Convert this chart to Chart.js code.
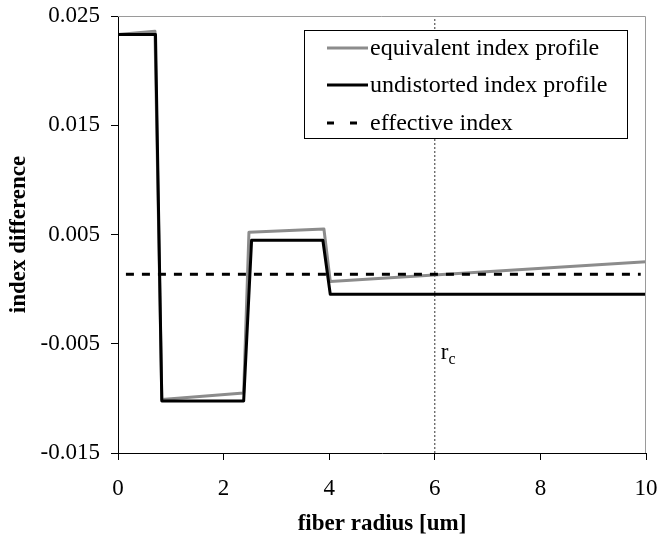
<!DOCTYPE html>
<html>
<head>
<meta charset="utf-8">
<script src="https://cdn.jsdelivr.net/npm/chart.js@4.4.1/dist/chart.umd.min.js"></script>
<style>
  html, body { margin: 0; padding: 0; background: #fff; }
  #profileChart { display: block; }
</style>
</head>
<body>
<canvas id="profileChart" width="657" height="541"></canvas>
<script>
// radius [um] and index difference for each profile
const equivRadius = [0, 0.7, 0.83, 2.38, 2.48, 3.9, 4.02, 10];
const equivIndex = [0.0233, 0.0236, -0.0101, -0.0095, 0.0052, 0.0055, 0.0007, 0.0025];

const undistRadius = [0, 0.71, 0.83, 2.38, 2.53, 3.88, 4.02, 10];
const undistIndex = [0.0233, 0.0233, -0.01024, -0.01024, 0.00447, 0.00447, -0.00047, -0.00047];

const effRadius = [0.15, 9.9];
const effIndex = [0.00136, 0.00136];

// cutoff radius marker
const rcRadius = [6, 6];
const rcIndex = [-0.015, 0.025];

const xTicks = [0, 2, 4, 6, 8, 10];
const yTicks = [-0.015, -0.005, 0.005, 0.015, 0.025];

const serif = "'Liberation Serif', 'Times New Roman', serif";

function toPoints(xs, ys) {
    return xs.map((x, i) => ({ x: x, y: ys[i] }));
}

// boxed legend + top/right frame + r_c label
const decorations = {
    id: 'decorations',
    afterDraw(chart) {
        const ctx = chart.ctx;
        const a = chart.chartArea;
        const xs = chart.scales.x;
        const ys = chart.scales.y;

        ctx.save();
        ctx.strokeStyle = '#9a9a9a';
        ctx.lineWidth = 1;
        ctx.beginPath();
        ctx.moveTo(a.left, a.top + 0.5);
        ctx.lineTo(a.right - 0.5, a.top + 0.5);
        ctx.lineTo(a.right - 0.5, a.bottom);
        ctx.stroke();

        // r_c label next to the marker
        const rx = xs.getPixelForValue(rcRadius[0]) + 6;
        const ry = ys.getPixelForValue(-0.0064);
        ctx.fillStyle = '#000';
        ctx.textBaseline = 'alphabetic';
        ctx.font = '23px ' + serif;
        ctx.fillText('r', rx, ry);
        const rw = ctx.measureText('r').width;
        ctx.font = '16px ' + serif;
        ctx.fillText('c', rx + rw, ry + 5);

        // legend box
        const lw = 323, lh = 108;
        const lx = a.right - 19 - lw;
        const ly = a.top + 14;
        ctx.fillStyle = '#fff';
        ctx.fillRect(lx, ly, lw, lh);
        ctx.strokeStyle = '#000';
        ctx.lineWidth = 1;
        ctx.strokeRect(lx + 0.5, ly + 0.5, lw, lh);

        const rows = [18, 55, 93];
        chart.data.datasets.filter(d => !d.hideInLegend).forEach((d, i) => {
            const y = ly + rows[i];
            ctx.strokeStyle = d.borderColor;
            ctx.lineWidth = d.borderWidth;
            ctx.setLineDash(d.borderDash ? [7, 16] : []);
            ctx.beginPath();
            ctx.moveTo(lx + 23, y);
            ctx.lineTo(lx + 64, y);
            ctx.stroke();
            ctx.setLineDash([]);
            ctx.fillStyle = '#000';
            ctx.font = '24px ' + serif;
            ctx.textBaseline = 'middle';
            ctx.fillText(d.label, lx + 66, y + 1);
        });
        ctx.restore();
    }
};

const ctx = document.getElementById('profileChart').getContext('2d');
const chart = new Chart(ctx, {
    type: 'line',
    data: {
        datasets: [{
            label: 'equivalent index profile',
            data: toPoints(equivRadius, equivIndex),
            borderColor: '#8c8c8c',
            borderWidth: 3,
            order: 2
        }, {
            label: 'undistorted index profile',
            data: toPoints(undistRadius, undistIndex),
            borderColor: '#000',
            borderWidth: 3,
            order: 1
        }, {
            label: 'effective index',
            data: toPoints(effRadius, effIndex),
            borderColor: '#000',
            borderWidth: 3,
            borderDash: [8, 8],
            order: 0
        }, {
            label: 'rc',
            data: toPoints(rcRadius, rcIndex),
            borderColor: '#333',
            borderWidth: 1,
            borderDash: [2, 2],
            hideInLegend: true,
            order: 3
        }]
    },
    options: {
        responsive: false,
        animation: false,
        layout: { padding: { top: 16, right: 11, left: 0, bottom: 0 } },
        elements: {
            point: { radius: 0 },
            line: { tension: 0, fill: false, borderCapStyle: 'butt', borderJoinStyle: 'round' }
        },
        plugins: {
            legend: { display: false },
            tooltip: { enabled: false }
        },
        scales: {
            x: {
                type: 'linear',
                min: 0,
                max: 10,
                afterBuildTicks: s => { s.ticks = xTicks.map(v => ({ value: v })); },
                afterFit: s => { s.height = 88; s.paddingLeft = 0; s.paddingRight = 0; },
                grid: { drawOnChartArea: false, drawTicks: true, tickLength: 7, color: '#000' },
                border: { color: '#000', width: 1 },
                ticks: { color: '#000', padding: 15, maxRotation: 0, font: { family: serif, size: 23 } },
                title: {
                    display: true,
                    text: 'fiber radius [um]',
                    color: '#000',
                    padding: { top: 0, bottom: 3 },
                    font: { family: serif, size: 23, weight: 'bold' }
                }
            },
            y: {
                type: 'linear',
                min: -0.015,
                max: 0.025,
                afterBuildTicks: s => { s.ticks = yTicks.map(v => ({ value: v })); },
                afterFit: s => { s.width = 118; s.paddingTop = 0; s.paddingBottom = 0; },
                grid: { drawOnChartArea: false, drawTicks: true, tickLength: 7, color: '#000' },
                border: { color: '#000', width: 1 },
                ticks: {
                    color: '#000',
                    padding: 11,
                    font: { family: serif, size: 23 },
                    callback: v => v.toFixed(3)
                },
                title: {
                    display: true,
                    text: 'index difference',
                    color: '#000',
                    padding: { top: 5, bottom: 0 },
                    font: { family: serif, size: 23, weight: 'bold' }
                }
            }
        }
    },
    plugins: [decorations]
});
</script>
</body>
</html>
